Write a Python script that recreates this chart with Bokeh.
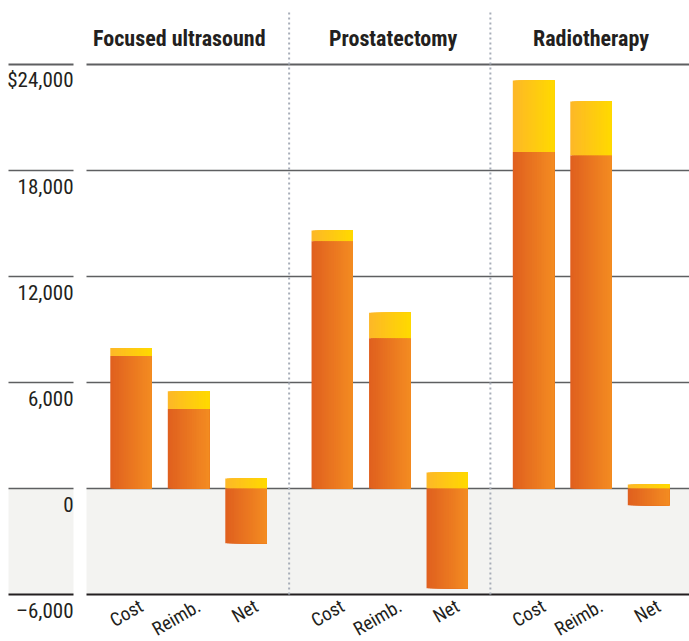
import numpy as np
from bokeh.plotting import figure
from bokeh.models import Range1d
from bokeh.core.properties import value
from bokeh.embed import file_html
from bokeh.resources import INLINE

# ---- data ----
groups = ["Focused ultrasound", "Prostatectomy", "Radiotherapy"]
measures = ["Cost", "Reimb.", "Net"]
# lower estimate (orange) and upper estimate (yellow), per group x measure
low_vals = [7500, 4500, -3100, 14000, 8500, -5650, 19050, 18850, -950]
high_vals = [7950, 5500, 570, 14600, 9950, 900, 23100, 21900, 230]
y_ticks = [-6000, 0, 6000, 12000, 18000, 24000]
y_tick_labels = ["\u20136,000", "0", "6,000", "12,000", "18,000", "$24,000"]

# ---- layout ----
GROUP_STEP = 3.5
BAR_W = 0.72
FONT = "Roboto Condensed, DejaVu Sans Condensed, Roboto"
UPX = 57.5          # px per x unit
PX = 17.667 / 1000.0  # px per y unit
X0 = -130.5 / UPX
X1 = X0 + 689 / UPX
LAB_L = X0 + 8 / UPX
LAB_R = X0 + 73 / UPX
PLOT_L = X0 + 86 / UPX
Y1 = 488 / PX
Y0 = -(641 - 488) / PX
TITLE_DX = [-0.16, 0.06, 0.0]

p = figure(width=689, height=641, output_backend="svg", toolbar_location=None,
           x_range=Range1d(X0, X1), y_range=Range1d(Y0, Y1),
           x_axis_location=None, y_axis_location=None, min_border=0)
p.grid.visible = False
p.outline_line_color = None

xs = [g * GROUP_STEP + i for g in range(len(groups)) for i in range(len(measures))]

# negative region shading
p.quad(left=[LAB_L, PLOT_L], right=[LAB_R, X1], bottom=[y_ticks[0]] * 2, top=[0, 0],
       fill_color="#f3f3f1", line_color=None)

# gridlines
for t in y_ticks:
    col = "#231f20" if t == y_ticks[0] else "#5e5f61"
    w = 2 if t in (y_ticks[0], y_ticks[-1]) else 1.5
    p.segment(x0=[LAB_L, PLOT_L], x1=[LAB_R, X1], y0=[t, t], y1=[t, t],
              line_color=col, line_width=w)

# group separators
seps = [(g + 1) * GROUP_STEP - 0.75 for g in range(len(groups) - 1)]
p.segment(x0=seps, x1=seps, y0=[y_ticks[0]] * len(seps), y1=[(488 - 12) / PX] * len(seps),
          line_color="#a7adb8", line_width=2, line_dash="2 3")

# gradient bars
def grad(c0, c1, n):
    c0 = np.array([int(c0[i:i + 2], 16) for i in (1, 3, 5)], float)
    c1 = np.array([int(c1[i:i + 2], 16) for i in (1, 3, 5)], float)
    out = []
    for k in range(n):
        t = k / (n - 1)
        c = c0 + (c1 - c0) * t
        out.append("#%02x%02x%02x" % tuple(int(round(v)) for v in c))
    return out

N = 24
orange = grad("#e0601f", "#f38b21", N)
yellow = grad("#fdb827", "#ffd900", N)
yb = [max(lo, 0) for lo in low_vals]
for k in range(N):
    left = [x - BAR_W / 2 + k * BAR_W / N for x in xs]
    right = [x + BAR_W / 2 for x in xs]
    p.quad(left=left, right=right, bottom=yb, top=high_vals,
           fill_color=yellow[k], line_color=None)
    p.quad(left=left, right=right, bottom=[0] * len(xs), top=low_vals,
           fill_color=orange[k], line_color=None)

# y tick labels
p.text(x=[LAB_R] * len(y_ticks), y=[t - 16 / PX for t in y_ticks], text=y_tick_labels,
       text_font=value(FONT), text_font_size=value("21px"), text_color="#231f20",
       text_align="right", text_baseline="alphabetic")

# group titles
gx = [g * GROUP_STEP + 1 + TITLE_DX[g] for g in range(len(groups))]
p.text(x=gx, y=[(488 - 38) / PX] * len(gx), text=groups,
       text_font=value(FONT), text_font_size=value("22px"), text_font_style="bold",
       text_color="#231f20", text_align="center", text_baseline="alphabetic")

# category labels
lab = [measures[i] for g in range(len(groups)) for i in range(len(measures))]
p.text(x=[x + 0.18 for x in xs], y=[-116 / PX] * len(xs), text=lab,
       text_font=value(FONT), text_font_size=value("19px"), text_color="#231f20",
       text_align="right", text_baseline="alphabetic", angle=np.deg2rad(30))

open("out.html", "w").write(file_html(p, INLINE))
